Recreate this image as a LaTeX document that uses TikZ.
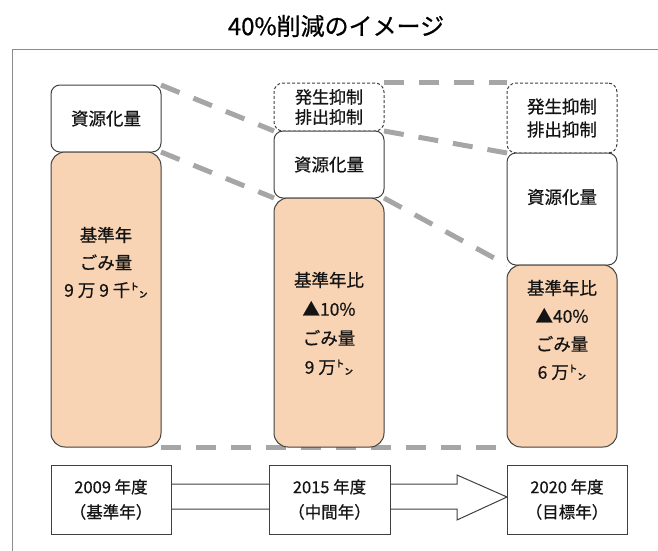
\documentclass[tikz,border=0pt]{standalone}
\usepackage{fontspec}
\setmainfont{Noto Sans CJK JP}[FakeBold=0.6]
\usetikzlibrary{calc}
\definecolor{peach}{HTML}{F8D4B4}
\definecolor{boxc}{HTML}{404040}
\definecolor{dashgray}{HTML}{A6A6A6}
\definecolor{framec}{HTML}{8C8C8C}
\definecolor{txt}{HTML}{141414}
\pgfdeclarelayer{bg}
\pgfsetlayers{bg,main}
\begin{document}
\begin{tikzpicture}[x=1pt,y=-1pt,
  base/.style={inner sep=0pt, outer sep=0pt, text=txt},
  wbox/.style={base, draw=boxc, line width=1pt, fill=white, rounded corners=9pt, minimum width=110pt},
  obox/.style={base, draw=boxc, line width=1pt, fill=peach, rounded corners=14pt, minimum width=110pt},
  dbox/.style={base, draw=boxc, line width=1pt, dash pattern=on 3pt off 2pt, fill=white, rounded corners=9pt, minimum width=110pt},
  ybox/.style={base, draw=boxc, line width=1pt, fill=white, minimum height=69pt, align=center,
    font=\fontsize{16.5}{25}\selectfont},
  gline/.style={draw=dashgray, line width=5pt, dash pattern=on 20pt off 15pt},
  lbl/.style={base, align=center, font=\fontsize{17.5}{20}\selectfont},
  arrowline/.style={draw=boxc, line width=1pt, fill=white, line join=miter}
]
\useasboundingbox (0,0) rectangle (658,551);

% title and frame
\node[base, font=\fontsize{24}{26}\selectfont, text=black] (title) at (336,26) {40\%削減のイメージ};
\draw[framec, line width=1pt] (670,50) -- (12,50) -- (12,560);

% column 1
\node[wbox, minimum height=67pt, font=\fontsize{17.5}{20}\selectfont] (r1) at (106,118.5) {資源化量};
\node[obox, minimum height=295pt] (o1) at (106,299.5) {};
\node[lbl, font=\fontsize{17.5}{27.5}\selectfont] (t1) at (106,262.5) {基準年\\ごみ量\\9 万 9 千㌧};

% column 2
\node[dbox, minimum height=48pt, align=center, font=\fontsize{17}{20}\selectfont] (d2) at (329,107) {発生抑制\\排出抑制};
\node[wbox, minimum height=67pt, font=\fontsize{17.5}{20}\selectfont] (r2) at (329,164.5) {資源化量};
\node[obox, minimum height=249pt] (o2) at (329,322.5) {};
\node[lbl, font=\fontsize{17.5}{29}\selectfont] (t2) at (329,323.5) {基準年比\\▲10\%\\ごみ量\\9 万㌧};

% column 3
\node[dbox, minimum height=70pt, align=center, font=\fontsize{17.5}{23}\selectfont] (d3) at (562,118) {発生抑制\\排出抑制};
\node[wbox, minimum height=112pt] (r3) at (562,209) {};
\node[lbl] (t3a) at (562,197) {資源化量};
\node[obox, minimum height=182pt] (o3) at (562,356) {};
\node[lbl, font=\fontsize{17.5}{28}\selectfont] (t3) at (562,330) {基準年比\\▲40\%\\ごみ量\\6 万㌧};

% bottom year boxes
\node[ybox, minimum width=120pt] (y1) at (111,499.5) {2009 年度\\（基準年）};
\node[ybox, minimum width=121pt] (y2) at (329.5,499.5) {2015 年度\\（中間年）};
\node[ybox, minimum width=120pt] (y3) at (567,499.5) {2020 年度\\（目標年）};

\begin{pgfonlayer}{bg}
  \draw[gline] (r1.north east) -- (r2.north west);
  \draw[gline] (o1.north east) -- (o2.north west);
  \draw[gline] ($(d2.north east)+(0,-1)$) -- ($(d3.north west)+(0,-1)$);
  \draw[gline] (r2.north east) -- (r3.north west);
  \draw[gline] (o2.north east) -- (o3.north west);
  \draw[gline] (o1.south east) -- (o3.south west);
  \draw[arrowline] ($(y1.east)+(0,-15.5)$) -- ($(y3.west)+(-50,-15.5)$)
    -- ($(y3.west)+(-50,-24.5)$) -- ($(y3.west)+(0,-2.5)$)
    -- ($(y3.west)+(-50,20.5)$) -- ($(y3.west)+(-50,9.5)$)
    -- ($(y1.east)+(0,9.5)$);
\end{pgfonlayer}
\end{tikzpicture}
\end{document}
